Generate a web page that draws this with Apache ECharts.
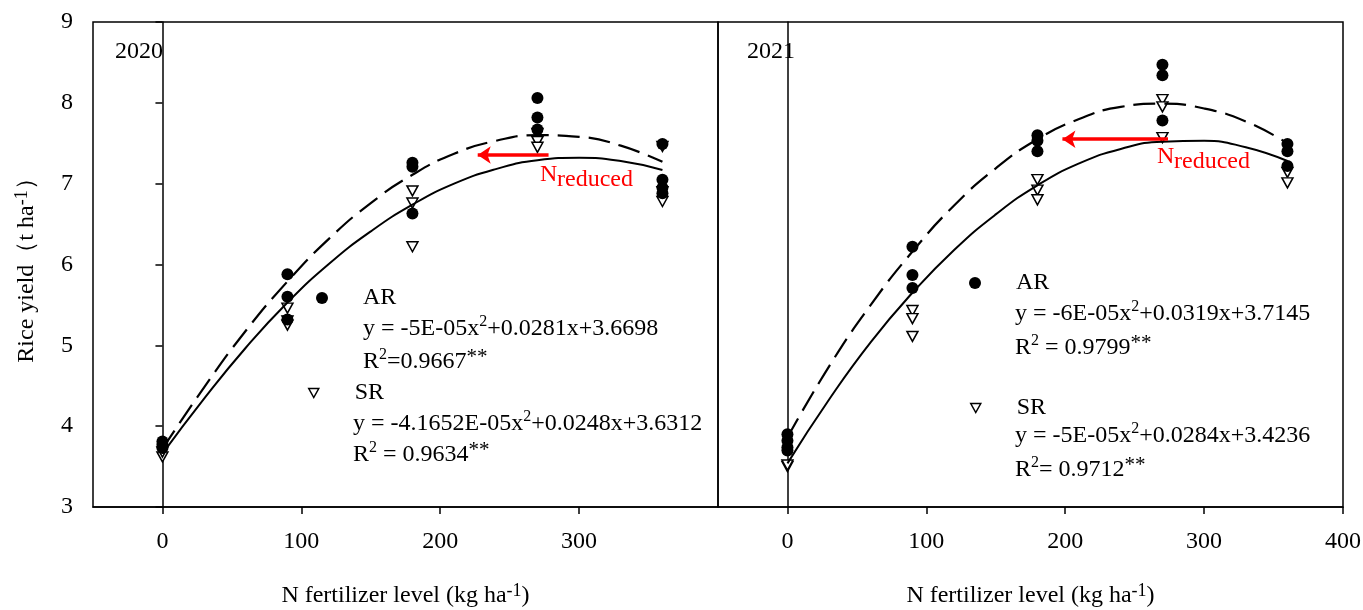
<!DOCTYPE html>
<html>
<head>
<meta charset="utf-8">
<style>
html, body { margin: 0; padding: 0; background: #fff; }
#chart { width: 1363px; height: 610px; }
</style>
</head>
<body>
<div id="chart"></div>

<script src="https://cdn.jsdelivr.net/npm/echarts@6/dist/echarts.min.js"></script>

<script>

let ar2020 = [
	[0, 3.81], [0, 3.77], [0, 3.73],
	[90, 5.88], [90, 5.60], [90, 5.32],
	[180, 7.26], [180, 7.21], [180, 6.63],
	[270, 8.06], [270, 7.82], [270, 7.67],
	[360, 7.49], [360, 7.05], [360, 6.95], [360, 6.88]
];
let sr2020 = [
	[0, 3.62], [0, 3.68],
	[90, 5.46], [90, 5.30], [90, 5.25],
	[180, 6.91], [180, 6.76], [180, 6.22],
	[270, 7.62], [270, 7.52], [270, 7.45],
	[360, 7.46], [360, 6.90], [360, 6.78]
];
let ar2021 = [
	[0, 3.90], [0, 3.82], [0, 3.74], [0, 3.70],
	[90, 6.22], [90, 5.87], [90, 5.71],
	[180, 7.60], [180, 7.53], [180, 7.40],
	[270, 8.47], [270, 8.34], [270, 7.78],
	[360, 7.49], [360, 7.40], [360, 7.22]
];
let sr2021 = [
	[0, 3.50], [0, 3.52],
	[90, 5.43], [90, 5.33], [90, 5.11],
	[180, 7.05], [180, 6.92], [180, 6.80],
	[270, 8.04], [270, 7.95], [270, 7.57],
	[360, 7.14], [360, 7.01]
];

// fitted curves as drawn in the figure
let fitX = [0, 30, 60, 90, 120, 150, 180, 210, 240, 270, 300, 330, 360];
let arFit2020 = [3.72, 4.48, 5.18, 5.79, 6.32, 6.76, 7.11, 7.37, 7.53, 7.60, 7.58, 7.47, 7.27];
let srFit2020 = [3.66, 4.34, 4.97, 5.53, 6.01, 6.41, 6.74, 7.00, 7.18, 7.29, 7.32, 7.28, 7.17];
let arFit2021 = [3.86, 4.74, 5.50, 6.16, 6.73, 7.19, 7.55, 7.80, 7.95, 7.99, 7.93, 7.77, 7.50];
let srFit2021 = [3.54, 4.33, 5.04, 5.65, 6.18, 6.62, 6.98, 7.25, 7.43, 7.52, 7.53, 7.45, 7.28];

// N reduced arrows: [from x, to x, y]
let arrow2020 = [278, 227, 7.355];
let arrow2021 = [274, 198, 7.55];

let xTicks2020 = [0, 100, 200, 300];
let xTicks2021 = [0, 100, 200, 300, 400];

let fontFamily = "Liberation Serif";
let triangle = "path://M0,0L10,0L5,9Z";


function pairs(xs, ys) {
	return xs.map((x, i) => [x, ys[i]]);
}

function arrowLine(a) {
	return {
		silent: true,
		symbol: ["none", "arrow"],
		symbolSize: 13,
		label: {show: false},
		lineStyle: {color: "#ff0000", width: 3.5, type: "solid"},
		data: [[{coord: [a[0], a[2]]}, {coord: [a[1], a[2]]}]]
	};
}

function xAxis(gridIndex, ticks) {
	return {
		type: "value",
		gridIndex: gridIndex,
		min: -50,
		max: 400,
		name: "N fertilizer level (kg ha{sup|-1})",
		nameLocation: "middle",
		nameGap: 75,
		nameTextStyle: {
			fontFamily: fontFamily, fontSize: 24, color: "#000", lineHeight: 28,
			rich: {sup: {fontFamily: fontFamily, fontSize: 18, lineHeight: 18, color: "#000", verticalAlign: "top"}}
		},
		axisLine: {lineStyle: {color: "#000", width: 1.5}},
		axisTick: {inside: false, length: 7, customValues: ticks, lineStyle: {color: "#000", width: 1.5}},
		axisLabel: {customValues: ticks, margin: 23, fontFamily: fontFamily, fontSize: 24, color: "#000"},
		splitLine: {show: false}
	};
}

function textEl(x, y, text, color) {
	return {
		type: "text",
		x: x,
		y: y,
		silent: true,
		style: {
			text: text,
			fill: color || "#000",
			fontFamily: fontFamily,
			fontSize: 24,
			lineHeight: 30,
			verticalAlign: "middle",
			rich: {
				sup: {fontFamily: fontFamily, fontSize: 16, lineHeight: 18, fill: "#000", verticalAlign: "top"},
				star: {fontFamily: fontFamily, fontSize: 21, lineHeight: 21, fill: "#000", verticalAlign: "top"}
			}
		}
	};
}

// legend box is laid out on its drawn extent, so left is the icon's left edge
function legendAt(left, top, name, icon, itemStyle) {
	return {
		left: left,
		top: top,
		padding: 0,
		selectedMode: false,
		itemWidth: 72,
		itemHeight: name == "AR" ? 12 : 9,
		textStyle: {fontFamily: fontFamily, fontSize: 24, color: "#000", lineHeight: 24},
		data: [{name: name, icon: icon, itemStyle: itemStyle}]
	};
}

let arStyle = {color: "#000", opacity: 1};
let srStyle = {color: "#fff", borderColor: "#000", borderWidth: 1.5, opacity: 1};

let gridBase = {top: 22, width: 625, height: 485, show: true, borderColor: "#000", borderWidth: 1.5,
	containLabel: false, outerBoundsMode: "none"};

let chart = echarts.init(document.getElementById("chart"));

chart.setOption({
	animation: false,
	grid: [
		Object.assign({left: 93}, gridBase),
		Object.assign({left: 718}, gridBase)
	],
	xAxis: [xAxis(0, xTicks2020), xAxis(1, xTicks2021)],
	yAxis: [
		{
			type: "value",
			gridIndex: 0,
			min: 3,
			max: 9,
			interval: 1,
			name: "Rice yield（t ha{sup|-1}）",
			nameLocation: "middle",
			nameGap: 52,
			nameTextStyle: {
				fontFamily: fontFamily, fontSize: 24, color: "#000", lineHeight: 28,
				rich: {sup: {fontFamily: fontFamily, fontSize: 18, lineHeight: 18, color: "#000", verticalAlign: "top"}}
			},
			axisLine: {show: true, lineStyle: {color: "#000", width: 1.5}},
			axisTick: {show: true, inside: false, length: 7, lineStyle: {color: "#000", width: 1.5}},
			axisLabel: {margin: 20, fontFamily: fontFamily, fontSize: 24, color: "#000"},
			splitLine: {show: false}
		},
		{
			type: "value",
			gridIndex: 1,
			min: 3,
			max: 9,
			interval: 1,
			axisLine: {show: true, lineStyle: {color: "#000", width: 1.5}},
			axisTick: {show: false},
			axisLabel: {show: false},
			splitLine: {show: false}
		}
	],
	legend: [
		legendAt(316, 286, "AR", "circle", arStyle),
		legendAt(308, 381, "SR", triangle, srStyle),
		legendAt(969, 271, "AR", "circle", arStyle),
		legendAt(970, 396, "SR", triangle, srStyle)
	],
	graphic: [
		textEl(115, 52, "2020"),
		textEl(747, 52, "2021"),
		textEl(363, 329, "y = -5E-05x{sup|2}+0.0281x+3.6698"),
		textEl(363, 362, "R{sup|2}=0.9667{star|**}"),
		textEl(353, 424, "y = -4.1652E-05x{sup|2}+0.0248x+3.6312"),
		textEl(353, 455, "R{sup|2} = 0.9634{star|**}"),
		textEl(1015, 314, "y = -6E-05x{sup|2}+0.0319x+3.7145"),
		textEl(1015, 348, "R{sup|2} = 0.9799{star|**}"),
		textEl(1015, 436, "y = -5E-05x{sup|2}+0.0284x+3.4236"),
		textEl(1015, 470, "R{sup|2}= 0.9712{star|**}"),
		textEl(540, 175, "N", "#ff0000"),
		textEl(557, 180, "reduced", "#ff0000"),
		textEl(1157, 157, "N", "#ff0000"),
		textEl(1174, 162, "reduced", "#ff0000")
	],
	series: [
		{
			name: "AR fit 2020", type: "line", xAxisIndex: 0, yAxisIndex: 0,
			data: pairs(fitX, arFit2020), smooth: true, showSymbol: false, silent: true,
			lineStyle: {color: "#000", width: 2.2, type: [22, 9]}
		},
		{
			name: "SR fit 2020", type: "line", xAxisIndex: 0, yAxisIndex: 0,
			data: pairs(fitX, srFit2020), smooth: true, showSymbol: false, silent: true,
			lineStyle: {color: "#000", width: 2},
			markLine: arrowLine(arrow2020)
		},
		{
			name: "AR fit 2021", type: "line", xAxisIndex: 1, yAxisIndex: 1,
			data: pairs(fitX, arFit2021), smooth: true, showSymbol: false, silent: true,
			lineStyle: {color: "#000", width: 2.2, type: [22, 9]}
		},
		{
			name: "SR fit 2021", type: "line", xAxisIndex: 1, yAxisIndex: 1,
			data: pairs(fitX, srFit2021), smooth: true, showSymbol: false, silent: true,
			lineStyle: {color: "#000", width: 2},
			markLine: arrowLine(arrow2021)
		},
		{
			name: "SR", type: "scatter", xAxisIndex: 0, yAxisIndex: 0,
			data: sr2020, symbol: triangle, symbolSize: [11, 10], itemStyle: srStyle
		},
		{
			name: "AR", type: "scatter", xAxisIndex: 0, yAxisIndex: 0,
			data: ar2020, symbol: "circle", symbolSize: 12, itemStyle: arStyle
		},
		{
			name: "SR", type: "scatter", xAxisIndex: 1, yAxisIndex: 1,
			data: sr2021, symbol: triangle, symbolSize: [11, 10], itemStyle: srStyle
		},
		{
			name: "AR", type: "scatter", xAxisIndex: 1, yAxisIndex: 1,
			data: ar2021, symbol: "circle", symbolSize: 12, itemStyle: arStyle
		}
	]
});

</script>
</body>
</html>
